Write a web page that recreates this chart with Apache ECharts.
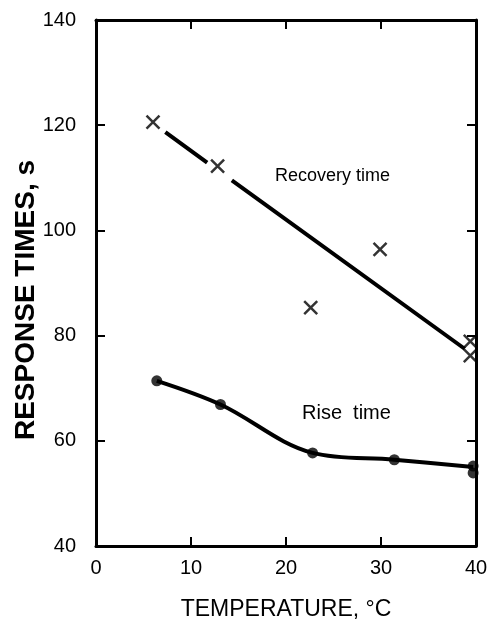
<!DOCTYPE html>
<html>
<head>
<meta charset="utf-8">
<script src="https://cdn.jsdelivr.net/npm/echarts@6/dist/echarts.min.js"></script>
<style>html,body{margin:0;padding:0;background:#fff;}#c{width:487px;height:623px;}</style>
</head>
<body>
<div id="c"></div>
<script>
// Data
const xTicks = [0, 10, 20, 30, 40];
const yTicks = [40, 60, 80, 100, 120, 140];
const recoveryX = [6.0, 12.8, 22.6, 29.9, 39.4, 39.4];
const recoveryY = [120.6, 112.2, 85.3, 96.4, 78.9, 76.2];
const recoveryFitX = [7.3, 11.7, null, 14.3, 38.8];
const recoveryFitY = [118.7, 112.9, null, 109.5, 77.5];
const riseX = [6.4, 13.1, 22.8, 31.4, 39.7, 39.7];
const riseY = [71.4, 66.9, 57.7, 56.4, 55.2, 53.9];
const riseCurveX = [6.4, 13.1, 22.8, 31.4, 39.7];
const riseCurveY = [71.4, 66.9, 57.7, 56.4, 55.0];
const labelRecovery = 'Recovery time';
const labelRise = 'Rise  time';
const xTitle = 'TEMPERATURE, °C';
const yTitle = 'RESPONSE TIMES, s';

const pairs = (xs, ys) => xs.map((x, i) => (x === null ? '-' : [x, ys[i]]));
const FONT = 'Liberation Sans';
const G = {left: 96, right: 11, top: 20, bottom: 77};
const W = 487 - G.left - G.right;   // plot width
const H = 623 - G.top - G.bottom;   // plot height

const xRange = {min: xTicks[0], max: xTicks[xTicks.length - 1], interval: 10};
const yRange = {min: yTicks[0], max: yTicks[yTicks.length - 1], interval: 20};

// frame axis: line only (plus labels on the main ones)
function frameAxis(range, position, extra) {
  return Object.assign({
    type: 'value', position: position,
    axisLine: {show: true, onZero: false, lineStyle: {color: '#000', width: 3}},
    axisTick: {show: false},
    axisLabel: {show: false},
    splitLine: {show: false}
  }, range, extra || {});
}
// tick-only axis placed on the opposite side so its outward ticks point into the plot
function tickAxis(range, position, offset) {
  return Object.assign({
    type: 'value', position: position, offset: offset,
    axisLine: {show: false, onZero: false},
    axisTick: {show: true, length: 9, lineStyle: {color: '#000', width: 2}},
    axisLabel: {show: false},
    splitLine: {show: false}
  }, range);
}

const chart = echarts.init(document.getElementById('c'), null, {renderer: 'canvas'});
chart.setOption({
  backgroundColor: '#fff',
  animation: false,
  grid: Object.assign({outerBoundsMode: 'none', containLabel: false}, G),
  xAxis: [
    frameAxis(xRange, 'bottom', {
      axisLabel: {show: true, color: '#000', fontSize: 20, fontFamily: FONT, margin: 12},
      name: xTitle, nameLocation: 'middle', nameGap: 52, nameMoveOverlap: false,
      nameTextStyle: {color: '#000', fontSize: 23, fontFamily: FONT}
    }),
    frameAxis(xRange, 'top'),
    tickAxis(xRange, 'top', -H),     // sits on bottom edge, ticks point up
    tickAxis(xRange, 'bottom', -H)   // sits on top edge, ticks point down
  ],
  yAxis: [
    frameAxis(yRange, 'left', {
      axisLabel: {show: true, color: '#000', fontSize: 20, fontFamily: FONT, margin: 20},
      name: yTitle, nameLocation: 'middle', nameGap: 56, nameRotate: 90, nameMoveOverlap: false,
      nameTextStyle: {color: '#000', fontSize: 28, fontFamily: FONT, fontWeight: 'bold', padding: [0, 34, 0, 0]}
    }),
    frameAxis(yRange, 'right'),
    tickAxis(yRange, 'right', -W),   // sits on left edge, ticks point right
    tickAxis(yRange, 'left', -W)     // sits on right edge, ticks point left
  ],
  series: [
    {
      type: 'line', data: pairs(recoveryFitX, recoveryFitY), showSymbol: false, symbol: 'none',
      connectNulls: false, lineStyle: {color: '#000', width: 4}, silent: true
    },
    {
      type: 'scatter', data: pairs(recoveryX, recoveryY),
      symbol: 'path://M0,0L10,10M10,0L0,10', symbolSize: 13,
      itemStyle: {color: 'none', borderColor: '#000', borderWidth: 2.5}
    },
    {
      type: 'line', data: pairs(riseCurveX, riseCurveY), smooth: 0.35, showSymbol: false, symbol: 'none',
      lineStyle: {color: '#000', width: 4}, silent: true
    },
    {
      type: 'scatter', data: pairs(riseX, riseY), symbol: 'circle', symbolSize: 11,
      itemStyle: {color: '#000'}
    }
  ],
  graphic: [
    {type: 'text', left: 275, top: 167, style: {text: labelRecovery, fill: '#000', fontSize: 18, fontFamily: FONT}},
    {type: 'text', left: 302, top: 403, style: {text: labelRise, fill: '#000', fontSize: 20, fontFamily: FONT}}
  ]
});
</script>
</body>
</html>
